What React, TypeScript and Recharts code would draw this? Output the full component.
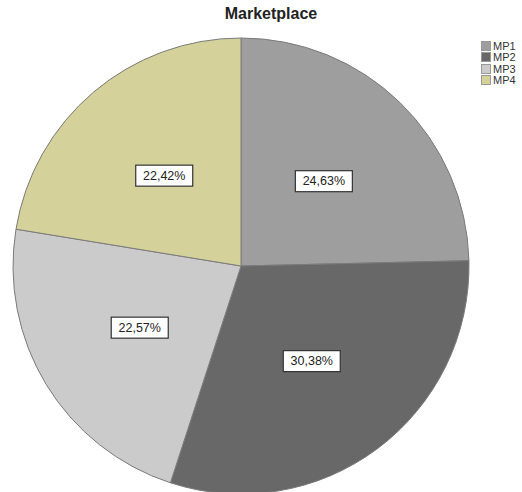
import React from 'react';
import { PieChart, Pie, Cell } from 'recharts';

const categories = ['MP1', 'MP2', 'MP3', 'MP4'];
const shares = [24.63, 30.38, 22.57, 22.42];
const colors = ['#9e9e9e', '#686868', '#cbcbcb', '#d4d19a'];
const title = 'Marketplace';

const data = categories.map((name, i) => ({ name, value: shares[i] }));

const RAD = Math.PI / 180;

const renderLabel = (props: any) => {
  const { cx, cy, midAngle, outerRadius, value } = props;
  const r = outerRadius * 0.52;
  const x = cx + r * Math.cos(-midAngle * RAD);
  const y = cy + r * Math.sin(-midAngle * RAD);
  const txt = Number(value).toFixed(2).replace('.', ',') + '%';
  const w = 57;
  const h = 21;
  return (
    <g>
      <rect x={x - w / 2} y={y - h / 2} width={w} height={h} fill="#ffffff" stroke="#333333" strokeWidth={1.2} />
      <text x={x} y={y} textAnchor="middle" dominantBaseline="central" fontSize={12.5} fontFamily="Liberation Sans, Arial, sans-serif" fill="#222222">
        {txt}
      </text>
    </g>
  );
};

export default function App() {
  return (
    <div style={{ position: 'absolute', left: 0, top: 0, width: 522, height: 492, background: '#ffffff', overflow: 'hidden' }}>
      <div style={{ position: 'absolute', left: 0, top: 5, width: 542, textAlign: 'center', fontFamily: 'Liberation Sans, Arial, sans-serif', fontWeight: 'bold', fontSize: 16, color: '#222222' }}>
        {title}
      </div>
      <PieChart width={522} height={492} margin={{ top: 0, right: 0, bottom: 0, left: 0 }}>
        <Pie
          data={data}
          dataKey="value"
          nameKey="name"
          cx={241}
          cy={266}
          outerRadius={228}
          startAngle={90}
          endAngle={-270}
          stroke="#7a7a7a"
          strokeWidth={1}
          label={renderLabel}
          labelLine={false}
          isAnimationActive={false}
        >
          {data.map((d, i) => (
            <Cell key={d.name} fill={colors[i]} />
          ))}
        </Pie>
      </PieChart>
      <div style={{ position: 'absolute', left: 481, top: 40, fontFamily: 'Liberation Sans, Arial, sans-serif', fontSize: 11, color: '#333333' }}>
        {categories.map((c, i) => (
          <div key={c} style={{ display: 'flex', alignItems: 'center', height: 11.5 }}>
            <span style={{ display: 'inline-block', width: 10, height: 10, background: colors[i], border: '1px solid #999999', boxSizing: 'border-box', marginRight: 2 }} />
            <span>{c}</span>
          </div>
        ))}
      </div>
    </div>
  );
}
